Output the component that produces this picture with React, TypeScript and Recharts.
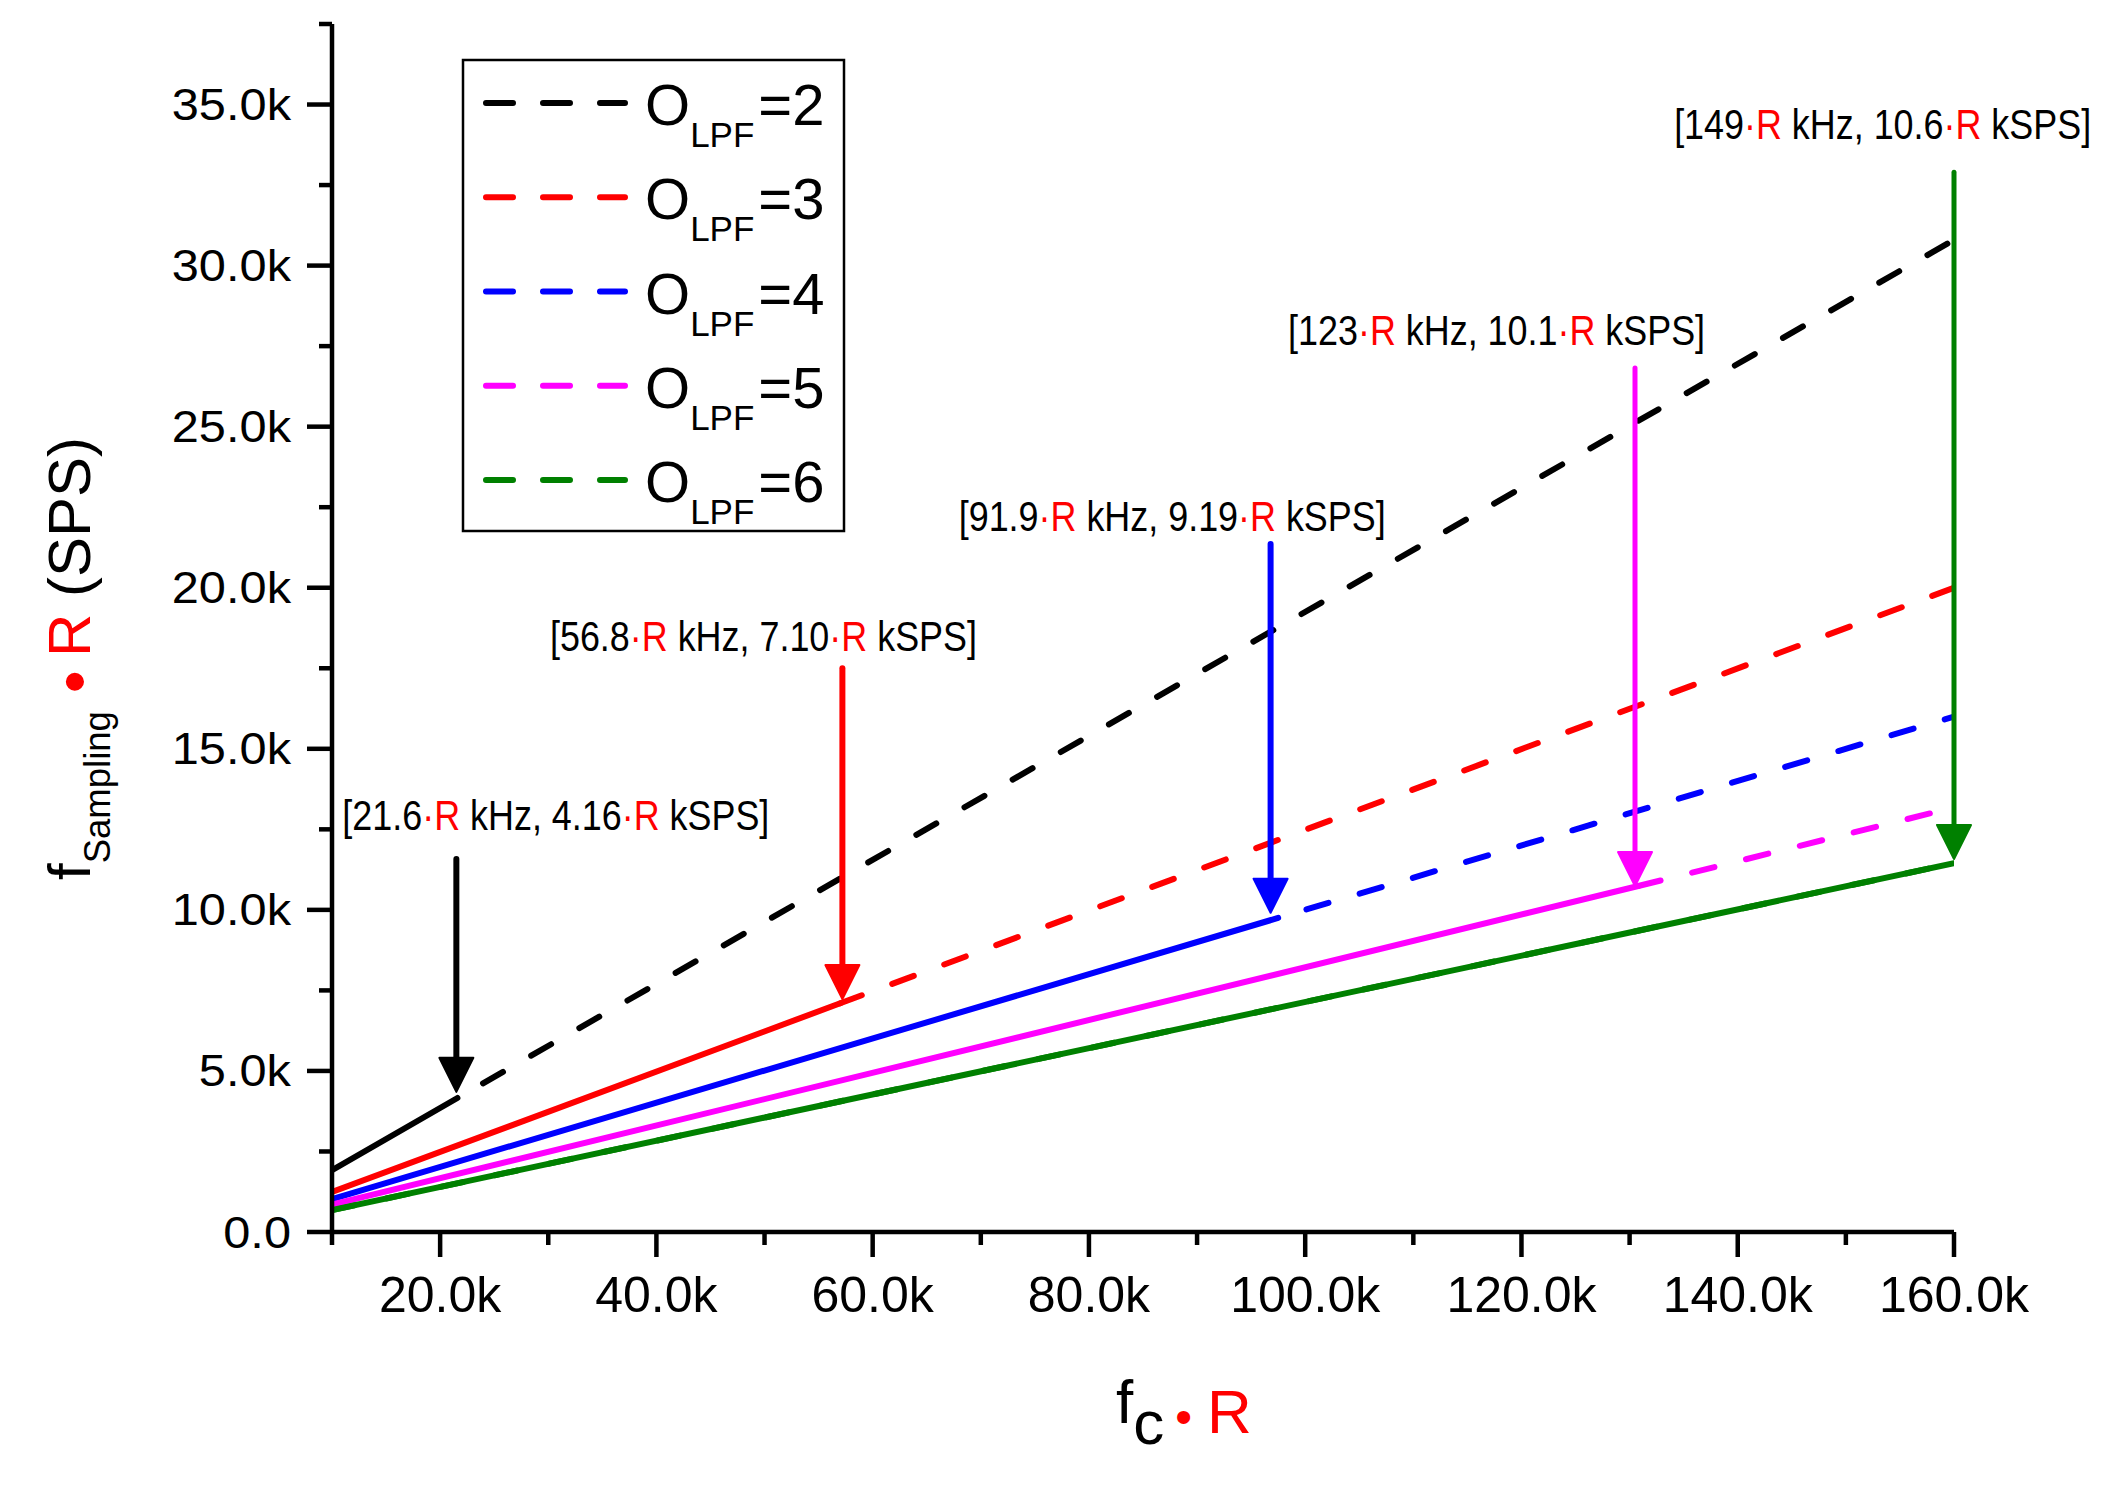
import React from 'react';
import { LineChart, Line, XAxis, YAxis, ReferenceLine, ReferenceDot, Customized } from 'recharts';

const FONT = '"Liberation Sans", Arial, Helvetica, sans-serif';

// ---- axes ----
const xTicks = [10000, 20000, 30000, 40000, 50000, 60000, 70000, 80000, 90000, 100000, 110000, 120000, 130000, 140000, 150000, 160000];
const yTicks = [0, 2500, 5000, 7500, 10000, 12500, 15000, 17500, 20000, 22500, 25000, 27500, 30000, 32500, 35000, 37500];
const xDomain = [10000, 160000];
const yDomain = [0, 37500];

// ---- series (fc·R in Hz, fSampling·R in SPS) ----
const seriesOrders = ['2', '3', '4', '5', '6'];
const seriesColors = ['#000000', '#FF0000', '#0000FF', '#FF00FF', '#008000'];
const seriesDashOffset = [26, 0, 26, 0, 0];

const o2Solid = [{ fc: 10000, fs: 1920 }, { fc: 21600, fs: 4160 }];
const o2Dashed = [{ fc: 21600, fs: 4160 }, { fc: 160000, fs: 30800 }];
const o3Solid = [{ fc: 10000, fs: 1240 }, { fc: 57000, fs: 7100 }];
const o3Dashed = [{ fc: 57000, fs: 7100 }, { fc: 160000, fs: 20000 }];
const o4Solid = [{ fc: 10000, fs: 1020 }, { fc: 97500, fs: 9750 }];
const o4Dashed = [{ fc: 97500, fs: 9750 }, { fc: 160000, fs: 16000 }];
const o5Solid = [{ fc: 10000, fs: 850 }, { fc: 130800, fs: 10740 }];
const o5Dashed = [{ fc: 130800, fs: 10740 }, { fc: 160000, fs: 13180 }];
const o6Solid = [{ fc: 10000, fs: 680 }, { fc: 160000, fs: 11450 }];
const o6Dashed = [{ fc: 10000, fs: 680 }, { fc: 160000, fs: 11450 }];

const solidData = [o2Solid, o3Solid, o4Solid, o5Solid, o6Solid];
const dashedData = [o2Dashed, o3Dashed, o4Dashed, o5Dashed, o6Dashed];

// ---- annotations ----
const labelFc = ['21.6', '56.8', '91.9', '123', '149'];
const labelFs = ['4.16', '7.10', '9.19', '10.1', '10.6'];
const labelX = [30700, 49900, 87700, 117700, 153400];
const labelY = [12480, 18040, 21760, 27540, 33930];
const arrowX = [21500, 57200, 96800, 130500, 160000];
const arrowTop = [11580, 17500, 21360, 26820, 32900];
const arrowTip = [4350, 7230, 9910, 10740, 11580];
const arrowWidth = [6, 6, 6, 5, 5];

const fmt = (v: number) => (v === 0 ? '0.0' : (v / 1000).toFixed(1) + 'k');

const XTick = (props: any) => {
  const { x, y, payload } = props;
  const v = payload.value;
  const major = v % 20000 === 0;
  return (
    <g>
      <line x1={x} y1={y} x2={x} y2={y + (major ? 25 : 13)} stroke="#000" strokeWidth={4.5} />
      {major && (
        <text x={x} y={y + 80} textAnchor="middle" fontSize={50} fontFamily={FONT} fill="#000">
          {fmt(v)}
        </text>
      )}
    </g>
  );
};

const YTick = (props: any) => {
  const { x, y, payload } = props;
  const v = payload.value;
  const major = v % 5000 === 0;
  return (
    <g>
      <line x1={x - (major ? 25 : 13)} y1={y} x2={x} y2={y} stroke="#000" strokeWidth={4.5} />
      {major && (
        <text
          transform={`translate(${x - 41},${y}) scale(1.06,0.95)`}
          textAnchor="end"
          dy="0.355em"
          fontSize={46}
          fontFamily={FONT}
          fill="#000"
        >
          {fmt(v)}
        </text>
      )}
    </g>
  );
};

const makeArrowHead = (color: string) => (props: any) => {
  const { cx, cy } = props;
  return (
    <polygon
      points={`${cx - 17},${cy - 34} ${cx + 17},${cy - 34} ${cx},${cy}`}
      fill={color}
      stroke={color}
      strokeWidth={2}
      strokeLinejoin="round"
    />
  );
};

const makeLabel = (i: number) => (props: any) => {
  const { cx, cy } = props;
  return (
    <text
      transform={`translate(${cx},${cy}) scale(0.855,1)`}
      textAnchor="middle"
      fontSize={42}
      fontFamily={FONT}
      fill="#000"
    >
      {'[' + labelFc[i]}
      <tspan fill="#FF0000">·R</tspan>
      {' kHz, ' + labelFs[i]}
      <tspan fill="#FF0000">·R</tspan>
      {' kSPS]'}
    </text>
  );
};

const Overlay = () => (
  <g>
    {/* legend */}
    <rect x={455} y={52} width={381} height={471} fill="#fff" stroke="#000" strokeWidth={2.5} />
    {seriesOrders.map((o, i) => {
      const cy = 95 + i * 94.25;
      return (
        <g key={o}>
          <line
            x1={478}
            x2={617}
            y1={cy}
            y2={cy}
            stroke={seriesColors[i]}
            strokeWidth={6}
            strokeLinecap="round"
            strokeDasharray="27 30"
          />
          <text x={637} y={cy + 22} fontSize={58} fontFamily={FONT} fill="#000">
            O
            <tspan dy={22} fontSize={35}>LPF</tspan>
            <tspan dy={-22} dx={4} fontSize={58}>{'=' + o}</tspan>
          </text>
        </g>
      );
    })}
    {/* y-axis title */}
    <text transform="translate(82,872) rotate(-90)" fontSize={60} fontFamily={FONT} fill="#000">
      f
      <tspan dy={20} fontSize={36.5}>Sampling</tspan>
      <tspan dy={-13} dx={18} fontSize={66} fill="#FF0000">•</tspan>
      <tspan dy={-7} dx={13} fill="#FF0000">R</tspan>
      <tspan> (SPS)</tspan>
    </text>
    {/* x-axis title */}
    <text x={1108} y={1415} fontSize={62} fontFamily={FONT} fill="#000">
      f
      <tspan dy={21}>c</tspan>
      <tspan dy={-11} dx={11} fontSize={48} fill="#FF0000">•</tspan>
      <tspan dx={15} fill="#FF0000">R</tspan>
    </text>
  </g>
);

export default function App() {
  return (
    <div style={{ width: 2100, height: 1480, background: '#fff' }}>
      <LineChart width={2100} height={1480} margin={{ top: 16, right: 154, bottom: 136, left: 124 }}>
        <XAxis
          type="number"
          dataKey="fc"
          domain={xDomain}
          ticks={xTicks}
          interval={0}
          allowDataOverflow
          height={120}
          tickSize={0}
          tickMargin={0}
          tickLine={false}
          tick={<XTick />}
          axisLine={{ stroke: '#000', strokeWidth: 4.5 }}
        />
        <YAxis
          type="number"
          dataKey="fs"
          domain={yDomain}
          ticks={yTicks}
          interval={0}
          allowDataOverflow
          width={200}
          tickSize={0}
          tickMargin={0}
          tickLine={false}
          tick={<YTick />}
          axisLine={{ stroke: '#000', strokeWidth: 4.5 }}
        />
        {dashedData.map((d, i) => (
          <Line
            key={'d' + i}
            data={d}
            dataKey="fs"
            type="linear"
            stroke={seriesColors[i]}
            strokeWidth={6}
            strokeLinecap="round"
            strokeDasharray="23 32.5"
            strokeDashoffset={seriesDashOffset[i]}
            dot={false}
            activeDot={false}
            legendType="none"
            isAnimationActive={false}
          />
        ))}
        {solidData.map((d, i) => (
          <Line
            key={'s' + i}
            data={d}
            dataKey="fs"
            type="linear"
            stroke={seriesColors[i]}
            strokeWidth={6}
            strokeLinecap="round"
            dot={false}
            activeDot={false}
            legendType="none"
            isAnimationActive={false}
          />
        ))}
        {arrowX.map((x, i) => (
          <ReferenceLine
            key={'al' + i}
            segment={[{ x, y: arrowTop[i] }, { x, y: arrowTip[i] + 1000 }]}
            stroke={seriesColors[i]}
            strokeWidth={arrowWidth[i]}
            strokeLinecap="round"
            ifOverflow="visible"
          />
        ))}
        {arrowX.map((x, i) => (
          <ReferenceDot
            key={'ah' + i}
            x={x}
            y={arrowTip[i]}
            r={1}
            ifOverflow="visible"
            shape={makeArrowHead(seriesColors[i])}
          />
        ))}
        {labelX.map((x, i) => (
          <ReferenceDot key={'lb' + i} x={x} y={labelY[i]} r={1} ifOverflow="visible" shape={makeLabel(i)} />
        ))}
        <Customized component={<Overlay />} />
      </LineChart>
    </div>
  );
}
